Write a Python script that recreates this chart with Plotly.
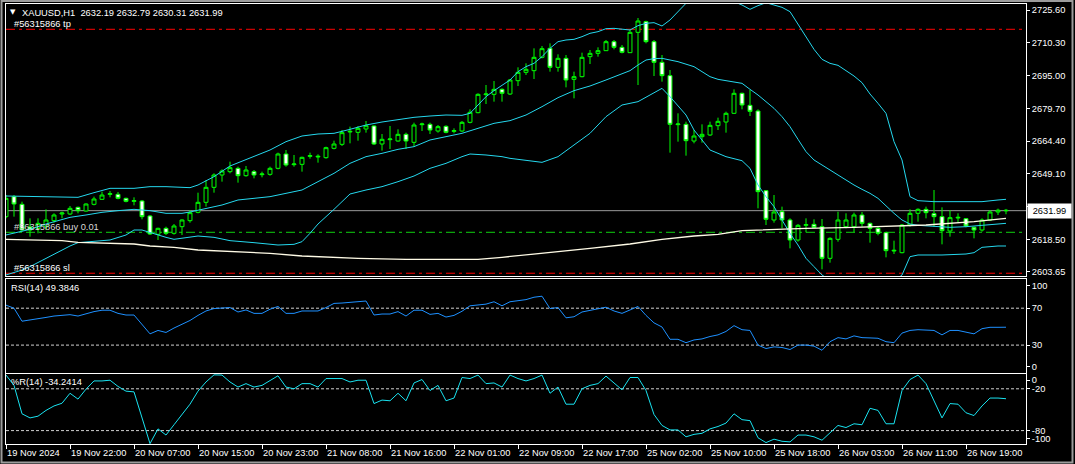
import plotly.graph_objects as go

# ---------------------------------------------------------------- data
bar_index = list(range(126))

opens = [2629.19, 2638.52, 2634.94, 2624.37, 2623.75, 2624.52, 2627.32, 2630.43, 2630.43, 2633.54,
         2631.83, 2634.94, 2637.28, 2639.61, 2639.61, 2637.74, 2636.34, 2636.50, 2629.50, 2620.95,
         2623.75, 2621.42, 2624.52, 2627.32, 2631.21, 2635.88, 2642.87, 2648.63, 2650.18, 2651.74,
         2648.31, 2650.18, 2648.78, 2648.94, 2651.74, 2658.42, 2653.45, 2653.60, 2657.34, 2657.03,
         2656.71, 2661.07, 2662.93, 2668.69, 2668.53, 2670.09, 2671.49, 2663.09, 2665.11, 2664.49,
         2667.60, 2663.87, 2672.11, 2672.26, 2669.15, 2671.33, 2669.00, 2669.15, 2673.20, 2677.71,
         2686.10, 2686.26, 2688.59, 2686.41, 2692.63, 2696.52, 2697.30, 2703.52, 2707.72, 2698.85,
         2703.05, 2693.26, 2694.50, 2703.83, 2705.38, 2706.63, 2710.83, 2708.18, 2705.70, 2715.18,
         2720.16, 2710.83, 2701.19, 2694.97, 2672.11, 2672.26, 2664.49, 2666.51, 2667.29, 2671.64,
         2673.35, 2677.40, 2686.73, 2681.13, 2678.48, 2641.32, 2627.64, 2631.52, 2627.64, 2618.31,
         2625.15, 2625.61, 2624.52, 2609.75, 2618.62, 2624.52, 2624.52, 2629.97, 2626.08, 2623.75,
         2621.73, 2613.17, 2612.39, 2625.30, 2630.75, 2632.61, 2630.59, 2629.19, 2622.50, 2628.57,
         2628.26, 2624.21, 2622.97, 2627.64, 2631.37, 2632.19]
highs = [2639.29, 2639.29, 2636.19, 2628.41, 2628.41, 2632.61, 2630.75, 2631.52, 2634.17, 2633.86,
         2635.40, 2638.52, 2640.85, 2641.16, 2640.70, 2638.05, 2638.21, 2636.97, 2629.97, 2624.06,
         2624.52, 2625.77, 2627.95, 2632.30, 2640.38, 2646.29, 2649.41, 2651.27, 2654.85, 2652.52,
         2652.83, 2650.96, 2650.18, 2652.52, 2659.05, 2660.29, 2657.96, 2657.18, 2659.05, 2658.27,
         2661.85, 2664.64, 2669.62, 2671.18, 2671.49, 2673.82, 2671.80, 2667.75, 2671.49, 2669.93,
         2668.38, 2673.04, 2673.04, 2673.04, 2671.95, 2671.80, 2670.40, 2673.82, 2679.26, 2686.73,
         2690.61, 2692.48, 2689.06, 2693.41, 2698.85, 2700.72, 2707.72, 2708.81, 2710.05, 2704.92,
         2704.61, 2696.83, 2705.70, 2706.94, 2708.18, 2711.61, 2711.61, 2709.27, 2716.58, 2721.87,
         2720.62, 2711.61, 2704.61, 2697.61, 2677.40, 2673.51, 2669.62, 2672.26, 2673.51, 2675.37,
         2678.17, 2688.59, 2687.04, 2688.28, 2679.26, 2641.63, 2639.29, 2633.86, 2628.41, 2625.77,
         2628.41, 2627.95, 2628.10, 2619.55, 2631.52, 2630.75, 2631.06, 2631.37, 2626.39, 2624.52,
         2622.19, 2617.99, 2625.77, 2632.61, 2633.08, 2633.86, 2641.63, 2633.54, 2632.30, 2630.75,
         2628.57, 2624.52, 2628.41, 2632.30, 2632.92, 2632.79]
lows = [2628.41, 2629.19, 2622.19, 2619.86, 2621.42, 2622.97, 2626.39, 2628.41, 2629.97, 2630.75,
        2631.52, 2634.48, 2636.97, 2638.21, 2637.28, 2635.88, 2634.48, 2627.95, 2620.64, 2618.31,
        2620.64, 2620.79, 2620.64, 2626.39, 2630.75, 2633.86, 2640.38, 2645.52, 2649.41, 2645.05,
        2647.85, 2647.07, 2647.54, 2648.31, 2651.27, 2652.52, 2652.52, 2650.18, 2656.25, 2654.38,
        2656.25, 2660.60, 2662.16, 2663.40, 2664.64, 2668.38, 2662.62, 2659.98, 2660.75, 2664.18,
        2660.75, 2661.85, 2669.15, 2667.75, 2668.38, 2668.07, 2668.07, 2668.69, 2672.73, 2677.40,
        2681.75, 2682.84, 2682.84, 2685.95, 2690.15, 2695.28, 2693.41, 2703.05, 2696.83, 2696.83,
        2689.52, 2684.39, 2694.19, 2700.41, 2703.83, 2706.47, 2707.25, 2705.38, 2705.70, 2690.61,
        2710.05, 2694.81, 2692.17, 2659.05, 2664.18, 2657.65, 2663.40, 2663.71, 2666.82, 2669.62,
        2668.38, 2677.08, 2679.26, 2676.15, 2633.08, 2625.30, 2626.39, 2623.75, 2614.42, 2617.53,
        2621.88, 2623.75, 2604.62, 2607.73, 2617.53, 2623.75, 2621.88, 2624.52, 2617.06, 2620.48,
        2610.22, 2611.77, 2612.08, 2624.52, 2626.86, 2628.41, 2624.52, 2616.28, 2619.86, 2626.39,
        2624.21, 2619.08, 2622.19, 2627.17, 2629.97, 2630.31]
closes = [2637.74, 2635.10, 2622.97, 2622.97, 2626.08, 2627.64, 2629.97, 2630.90, 2633.08, 2631.99,
          2635.10, 2637.43, 2639.29, 2639.90, 2637.74, 2636.34, 2636.65, 2629.19, 2621.10, 2623.75,
          2621.42, 2624.84, 2627.64, 2631.06, 2635.88, 2642.87, 2648.63, 2650.49, 2652.05, 2648.31,
          2650.96, 2648.63, 2649.09, 2651.74, 2658.42, 2653.29, 2653.76, 2656.87, 2657.65, 2657.34,
          2661.38, 2663.09, 2668.38, 2669.00, 2670.40, 2671.64, 2663.09, 2665.27, 2665.42, 2667.60,
          2664.49, 2671.95, 2672.42, 2669.62, 2671.18, 2668.53, 2669.31, 2673.20, 2677.86, 2686.26,
          2686.41, 2688.59, 2686.73, 2692.95, 2696.52, 2697.92, 2703.52, 2707.56, 2698.85, 2703.05,
          2692.95, 2694.50, 2703.52, 2705.38, 2706.63, 2710.83, 2708.18, 2705.85, 2715.18, 2720.47,
          2710.83, 2701.19, 2694.97, 2672.26, 2672.42, 2664.64, 2666.82, 2667.60, 2671.80, 2673.66,
          2677.40, 2686.73, 2681.28, 2678.33, 2640.85, 2627.95, 2631.37, 2627.64, 2618.31, 2625.15,
          2625.46, 2624.21, 2609.75, 2619.08, 2627.64, 2627.64, 2629.97, 2626.08, 2623.75, 2621.42,
          2613.33, 2613.48, 2625.30, 2630.75, 2632.61, 2631.06, 2629.19, 2622.65, 2628.72, 2628.88,
          2624.84, 2622.97, 2627.64, 2631.37, 2632.20, 2631.99]

tick_index = [0, 8, 16, 24, 32, 40, 48, 56, 64, 72, 80, 88, 96, 104, 112, 120]
tick_text = ["19 Nov 2024", "19 Nov 22:00", "20 Nov 07:00", "20 Nov 15:00", "20 Nov 23:00",
             "21 Nov 08:00", "21 Nov 16:00", "22 Nov 01:00", "22 Nov 09:00", "22 Nov 17:00",
             "25 Nov 02:00", "25 Nov 10:00", "25 Nov 18:00", "26 Nov 03:00", "26 Nov 11:00",
             "26 Nov 19:00"]

bb_upper_idx = [0, 5, 9, 11, 13, 16, 18, 20, 23, 24, 26, 28, 31, 33, 35, 37, 39, 41, 43, 45,
                47, 49, 51, 53, 55, 57, 58, 59, 60, 61, 62, 63, 64, 65, 66, 67, 68, 69, 70, 71,
                72, 73, 74, 75, 76, 77, 78, 79, 80, 81, 82, 83, 84, 85, 86, 88, 90, 91, 92, 93,
                94, 95, 96, 97, 98, 99, 100, 101, 102, 103, 104, 105, 106, 107, 108, 109, 110,
                111, 112, 113, 114, 116, 118, 120, 122, 124, 125]
bb_upper = [2638.83, 2638.52, 2638.21, 2640.39, 2642.41, 2642.41, 2643.19, 2643.19, 2642.72, 2643.96,
            2647.85, 2652.83, 2657.18, 2660.29, 2664.18, 2666.82, 2667.75, 2668.07, 2669.93, 2671.95,
            2673.35, 2674.60, 2675.53, 2676.15, 2676.62, 2676.46, 2677.40, 2681.28, 2685.17, 2687.97,
            2690.30, 2692.95, 2696.83, 2699.17, 2700.72, 2703.83, 2707.72, 2710.83, 2711.61, 2711.92,
            2713.16, 2714.72, 2715.49, 2716.89, 2717.05, 2716.58, 2716.27, 2718.29, 2719.38, 2719.69,
            2718.14, 2720.94, 2724.82, 2728.71, 2731.50, 2733.50, 2732.00, 2729.50, 2727.93, 2725.91,
            2727.62, 2729.00, 2727.93, 2726.84, 2724.82, 2719.07, 2713.16, 2707.25, 2702.59, 2700.72,
            2699.79, 2697.30, 2694.81, 2691.70, 2686.41, 2682.06, 2677.40, 2664.18, 2655.63, 2638.52,
            2636.65, 2636.19, 2636.19, 2636.50, 2636.19, 2636.97, 2637.28]

bb_mid_idx = [0, 2, 3, 5, 8, 10, 12, 14, 16, 17, 18, 20, 22, 23, 25, 27, 29, 33, 35, 37,
              39, 41, 43, 45, 47, 49, 51, 53, 55, 57, 59, 61, 63, 65, 67, 69, 71, 73, 75, 77,
              78, 79, 80, 81, 82, 83, 84, 86, 88, 89, 91, 92, 93, 94, 95, 96, 97, 98, 99, 100,
              101, 102, 103, 104, 105, 106, 107, 108, 109, 110, 111, 112, 113, 114,
              116, 118, 120, 122, 124, 125]
bb_mid = [2620.64, 2622.19, 2623.28, 2625.77, 2628.88, 2629.97, 2631.21, 2631.99, 2632.61, 2632.30,
          2631.99, 2630.75, 2630.75, 2631.37, 2633.08, 2634.63, 2636.97, 2638.52, 2640.07, 2641.63,
          2645.52, 2649.41, 2654.07, 2657.18, 2658.73, 2660.60, 2661.85, 2664.96, 2666.51, 2668.07,
          2670.40, 2672.73, 2673.98, 2676.62, 2680.51, 2684.70, 2687.97, 2690.15, 2692.95, 2695.74,
          2697.30, 2699.94, 2702.27, 2702.90, 2703.05, 2702.27, 2701.50, 2699.17, 2694.50, 2693.26,
          2692.17, 2691.39, 2688.59, 2685.95, 2682.84, 2679.73, 2675.84, 2671.18, 2665.27, 2659.51,
          2655.63, 2653.29, 2650.65, 2648.31, 2646.29, 2643.96, 2641.94, 2640.07, 2637.74, 2634.17,
          2630.75, 2627.64, 2625.77, 2625.15,
          2624.52, 2624.21, 2624.52, 2624.99, 2625.77, 2626.08]

bb_lower_idx = [0, 2, 3, 5, 8, 9, 11, 13, 15, 16, 17, 18, 20, 21, 23, 24, 26, 28, 31, 34,
                36, 37, 38, 39, 41, 43, 45, 47, 49, 51, 53, 55, 57, 58, 60, 62, 63, 67, 69, 71,
                73, 75, 77, 79, 80, 82, 83, 85, 86, 88, 90, 92, 93, 94, 95, 96, 97, 98, 99, 100,
                101, 102, 103, 105, 107, 109, 111, 112, 113, 114, 117, 120, 121, 122, 124, 125]
bb_lower = [2601.98, 2604.31, 2605.87, 2609.75, 2615.51, 2617.06, 2617.53, 2618.31, 2620.64, 2622.97,
            2622.97, 2621.73, 2619.55, 2618.62, 2619.55, 2620.17, 2619.55, 2617.99, 2617.06, 2615.97,
            2616.28, 2617.53, 2621.42, 2625.77, 2632.61, 2639.76, 2641.63, 2643.19, 2645.52, 2648.16,
            2651.74, 2654.07, 2657.18, 2658.42, 2657.96, 2657.18, 2656.40, 2654.53, 2657.18, 2662.62,
            2668.07, 2675.84, 2681.28, 2682.84, 2684.86, 2689.06, 2685.17, 2676.62, 2669.62, 2660.29,
            2657.18, 2655.30, 2651.74, 2643.96, 2638.52, 2633.86, 2627.64, 2621.42, 2615.97, 2609.75,
            2605.87, 2601.98, 2599.50, 2597.50, 2596.50, 2597.00, 2599.00, 2601.98, 2610.53, 2611.31,
            2611.31, 2611.77, 2612.39, 2614.88, 2615.51, 2615.51]

ma_idx = [0, 7, 9, 16, 18, 21, 24, 28, 33, 37, 41, 44, 50, 59, 62, 65, 69, 73, 78, 82,
          86, 89, 92, 100, 106, 111, 115, 121, 125]
ma_vals = [2618.62, 2617.99, 2617.22, 2616.44, 2615.51, 2614.88, 2613.64, 2612.86, 2612.08, 2610.84,
           2610.22, 2609.75, 2609.29, 2609.29, 2610.22, 2611.31, 2612.86, 2614.42, 2616.44, 2618.62,
           2620.17, 2620.95, 2622.65, 2623.75, 2624.21, 2624.84, 2625.30, 2626.86, 2628.41]

rsi_vals = [73.3, 70.0, 55.9, 57.0, 58.5, 60.0, 61.5, 62.6, 63.0, 61.5,
            64.1, 66.3, 67.8, 67.8, 64.4, 62.6, 62.6, 52.2, 42.2, 45.9,
            43.7, 48.5, 52.2, 56.7, 62.2, 67.0, 69.6, 70.4, 70.7, 65.9,
            68.1, 64.4, 64.4, 68.9, 71.9, 64.4, 64.4, 67.0, 67.0, 67.0,
            70.7, 75.2, 75.6, 76.3, 77.0, 77.8, 62.6, 63.7, 63.7, 66.3,
            61.5, 67.8, 67.8, 63.3, 64.4, 60.4, 62.2, 66.7, 72.6, 73.7,
            74.4, 77.0, 72.6, 77.0, 78.1, 79.3, 81.9, 83.0, 69.6, 70.7,
            59.6, 60.7, 65.9, 67.4, 68.9, 71.1, 67.0, 64.4, 68.1, 71.9,
            62.2, 54.1, 49.6, 36.3, 36.3, 32.6, 35.6, 36.7, 39.3, 41.1,
            44.8, 51.1, 46.7, 45.9, 30.0, 26.3, 28.1, 27.4, 25.2, 30.0,
            30.0, 28.9, 24.4, 33.7, 38.1, 36.7, 40.0, 38.1, 37.8, 37.4,
            33.7, 32.6, 43.0, 45.9, 46.7, 46.7, 45.9, 41.1, 45.9, 45.9,
            43.7, 42.2, 47.8, 49.3, 49.3, 49.3846]

wpr_vals = [-0.3, -15.1, -55.9, -61.8, -59.3, -51.0, -44.6, -40.7, -26.4, -34.8,
            -20.5, -8.7, -8.7, -7.7, -16.6, -23.4, -24.4, -61.8, -98.7, -77.5,
            -86.4, -71.6, -56.9, -42.1, -23.4, -10.2, 0.0, -0.3, -10.2, -17.5,
            -12.6, -17.5, -15.1, -7.7, -1.3, -17.5, -20.0, -12.6, -12.6, -17.5,
            -5.3, -5.3, -5.3, -10.2, -7.7, -7.7, -41.2, -36.2, -37.2, -26.4,
            -37.2, -11.6, -6.7, -22.5, -15.1, -37.2, -33.3, -3.8, -5.3, -0.3,
            -12.6, -11.6, -17.5, -0.3, -5.3, -8.7, -5.3, -0.3, -26.4, -17.5,
            -42.1, -42.1, -20.0, -15.1, -12.6, -1.8, -11.6, -21.5, -3.8, -3.8,
            -22.5, -56.9, -72.6, -79.0, -79.0, -88.9, -85.4, -83.9, -77.5, -74.1,
            -69.2, -55.9, -64.3, -65.7, -90.3, -97.2, -92.3, -95.3, -96.2, -86.4,
            -86.4, -88.9, -93.8, -82.5, -72.6, -75.6, -70.2, -71.6, -48.0, -51.0,
            -70.2, -70.2, -22.5, -6.7, -0.3, -12.6, -37.2, -61.8, -41.2, -42.1,
            -54.4, -58.4, -44.6, -33.3, -33.3, -34.2414]

price_ticks = [2725.60, 2710.30, 2695.00, 2679.70, 2664.40, 2649.10, 2633.80, 2618.50, 2603.65]
rsi_tick_text = ["100", "70", "30", "0"]
wpr_tick_text = ["0", "-20", "-80", "-100"]

tp_level = 2716.6
buy_level = 2621.9
sl_level = 2602.8
bid_price = 2631.99
order_ticket = "#56315866"
rsi_levels = [70, 30]
wpr_levels = [-20, -80]

# ---------------------------------------------------------------- style
FONT = "Liberation Sans, Arial, sans-serif"
FS = 9.3
W, H = 1075, 464
ML, MR, MT, MB = 6, 49, 4, 20
PW = W - ML - MR
PH = H - MT - MB
BG = "#000000"
BORDER = "#FFFFFF"
CANDLE = "#00FF00"
BB_COLOR = "#25D8EE"
MA_COLOR = "#FFFBE6"
RSI_COLOR = "#1E90FF"
WPR_COLOR = "#19E3F0"
LEVEL_DOT = "#D0D0D0"


def px_x(px):
    return (px - ML) / PW


def px_y(py):
    return (H - MB - py) / PH


main_dom = [px_y(276), 1.0]
rsi_dom = [px_y(372.5), px_y(278.5)]
wpr_dom = [0.0, px_y(374)]

fig = go.Figure()

fig.add_trace(go.Candlestick(
    x=bar_index, open=opens, high=highs, low=lows, close=closes,
    increasing=dict(line=dict(color=CANDLE, width=1), fillcolor="#000000"),
    decreasing=dict(line=dict(color=CANDLE, width=1), fillcolor="#FFFFFF"),
    whiskerwidth=0, hoverinfo="skip", showlegend=False, xaxis="x", yaxis="y"))

for idx, vals in [(bb_upper_idx, bb_upper), (bb_mid_idx, bb_mid), (bb_lower_idx, bb_lower)]:
    fig.add_trace(go.Scatter(x=idx, y=vals, mode="lines",
                             line=dict(color=BB_COLOR, width=1),
                             hoverinfo="skip", showlegend=False, xaxis="x", yaxis="y"))

fig.add_trace(go.Scatter(x=ma_idx, y=ma_vals, mode="lines",
                         line=dict(color=MA_COLOR, width=1.3),
                         hoverinfo="skip", showlegend=False, xaxis="x", yaxis="y"))

fig.add_trace(go.Scatter(x=bar_index, y=rsi_vals, mode="lines",
                         line=dict(color=RSI_COLOR, width=1),
                         hoverinfo="skip", showlegend=False, xaxis="x2", yaxis="y2"))

fig.add_trace(go.Scatter(x=bar_index, y=wpr_vals, mode="lines",
                         line=dict(color=WPR_COLOR, width=1),
                         hoverinfo="skip", showlegend=False, xaxis="x3", yaxis="y3"))

xcommon = dict(range=[0, 127.5], showgrid=False, zeroline=False, showline=True,
               linecolor=BORDER, linewidth=1, mirror=True, fixedrange=True, automargin=False)
ycommon = dict(showgrid=False, zeroline=False, showline=True, linecolor=BORDER,
               linewidth=1, mirror=True, side="right", ticks="outside", ticklen=3,
               tickcolor=BORDER, tickfont=dict(family=FONT, size=FS, color="#FFFFFF"),
               tickmode="array", fixedrange=True, automargin=False)

shapes = []
for lvl, col in [(tp_level, "#FF0000"), (sl_level, "#FF0000"), (buy_level, "#10D010")]:
    shapes.append(dict(type="line", xref="x domain", x0=0, x1=1, yref="y", y0=lvl, y1=lvl,
                       line=dict(color=col, width=1, dash="9px,4px,3px,4px"), layer="below"))
shapes.append(dict(type="line", xref="x domain", x0=0, x1=1, yref="y", y0=bid_price, y1=bid_price,
                   line=dict(color="#9A9A9A", width=1), layer="below"))
for lvl in rsi_levels:
    shapes.append(dict(type="line", xref="x2 domain", x0=0, x1=1, yref="y2", y0=lvl, y1=lvl,
                       line=dict(color=LEVEL_DOT, width=1, dash="3px,2px"), layer="below"))
for lvl in wpr_levels:
    shapes.append(dict(type="line", xref="x3 domain", x0=0, x1=1, yref="y3", y0=lvl, y1=lvl,
                       line=dict(color=LEVEL_DOT, width=1, dash="3px,2px"), layer="below"))
shapes.append(dict(type="rect", xref="paper", yref="paper",
                   x0=px_x(1.5), x1=px_x(1072.5), y0=px_y(462.5), y1=px_y(1),
                   line=dict(color="#9C9C9C", width=2), fillcolor="rgba(0,0,0,0)", layer="above"))

tfont = dict(family=FONT, size=FS, color="#FFFFFF")
annotations = [
    dict(text="▼", x=px_x(12.5), y=px_y(12.5), xref="paper", yref="paper",
         xanchor="center", yanchor="middle", showarrow=False,
         font=dict(family="DejaVu Sans", size=7, color="#FFFFFF")),
    dict(text="XAUUSD,H1  %.2f %.2f %.2f %.2f" % (opens[-1], highs[-1], lows[-1], closes[-1]),
         x=px_x(19.5), y=px_y(12.7), xref="paper", yref="paper",
         xanchor="left", yanchor="middle", showarrow=False, font=tfont),
    dict(text=order_ticket + " tp", x=px_x(11.5), y=px_y(23.7), xref="paper", yref="paper",
         xanchor="left", yanchor="middle", showarrow=False, font=tfont),
    dict(text=order_ticket + " buy 0.01", x=px_x(11.5), y=px_y(226.7), xref="paper", yref="paper",
         xanchor="left", yanchor="middle", showarrow=False,
         font=dict(family=FONT, size=FS, color="#D8D8D8")),
    dict(text=order_ticket + " sl", x=px_x(11.5), y=px_y(267.7), xref="paper", yref="paper",
         xanchor="left", yanchor="middle", showarrow=False, font=tfont),
    dict(text="RSI(14) %.4f" % rsi_vals[-1], x=px_x(9.3), y=px_y(287.5), xref="paper", yref="paper",
         xanchor="left", yanchor="middle", showarrow=False, font=tfont),
    dict(text="%%R(14) %.4f" % wpr_vals[-1], x=px_x(9.3), y=px_y(382), xref="paper", yref="paper",
         xanchor="left", yanchor="middle", showarrow=False, font=tfont),
    dict(text="%.2f" % bid_price, x=px_x(1027), y=bid_price, xref="paper", yref="y",
         xanchor="left", yanchor="middle", showarrow=False, bgcolor="#FFFFFF",
         width=41, height=12, borderpad=1,
         font=dict(family=FONT, size=FS, color="#000000")),
]

fig.update_layout(
    template="none",
    width=W, height=H, autosize=False,
    margin=dict(l=ML, r=MR, t=MT, b=MB, pad=0, autoexpand=False),
    paper_bgcolor=BG, plot_bgcolor=BG,
    showlegend=False, hovermode=False, dragmode=False,
    xaxis=dict(**xcommon, anchor="y", domain=[0, 1], showticklabels=False, ticks="",
               rangeslider=dict(visible=False)),
    xaxis2=dict(**xcommon, anchor="y2", domain=[0, 1], showticklabels=False, ticks=""),
    xaxis3=dict(**xcommon, anchor="y3", domain=[0, 1], tickmode="array",
                tickvals=tick_index, ticktext=tick_text, ticks="outside", ticklen=4,
                tickcolor=BORDER, ticklabelposition="outside right", tickangle=0,
                tickfont=dict(family=FONT, size=FS, color="#FFFFFF")),
    yaxis=dict(**ycommon, anchor="x", domain=main_dom, range=[2601.51, 2728.40],
               tickvals=price_ticks, ticktext=["%.2f" % v for v in price_ticks]),
    yaxis2=dict(**ycommon, anchor="x2", domain=rsi_dom, range=[0.30, 102.2],
                tickvals=[94.8, 70, 30, 6.6], ticktext=rsi_tick_text),
    yaxis3=dict(**ycommon, anchor="x3", domain=wpr_dom, range=[-99.23, 1.24],
                tickvals=[-7.4, -20, -80, -91.2], ticktext=wpr_tick_text),
    shapes=shapes,
    annotations=annotations,
)

fig.write_html("out.html", config={"displayModeBar": False, "staticPlot": True},
               post_script="document.body.style.margin='0';document.body.style.overflow='hidden';")
